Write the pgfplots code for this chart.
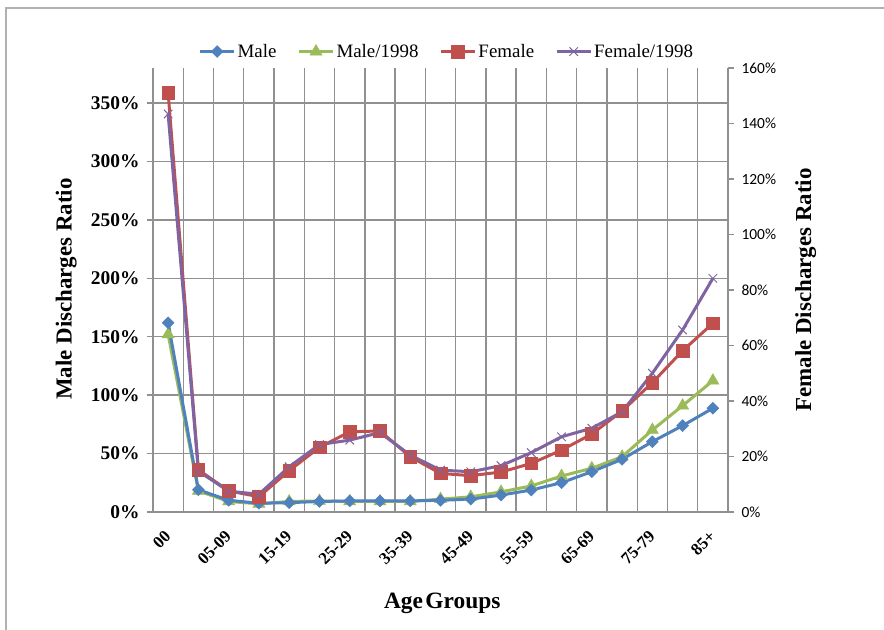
\documentclass[border=0pt]{standalone}
\usepackage{fontspec}
\setmainfont{Liberation Serif}
\newfontfamily\calibri{Carlito}
\usepackage{pgfplots}
\usepackage{pgfplotstable}
\pgfplotsset{compat=1.18}
\definecolor{cMale}{HTML}{4F81BD}
\definecolor{cMaleB}{HTML}{9BBB59}
\definecolor{cFem}{HTML}{C0504D}
\definecolor{cFemB}{HTML}{8064A2}
\definecolor{gridgray}{HTML}{909090}

\pgfplotstableread{
x male male98 female female98
0 162 152 151 143.4
1 19 18 15.2 14.7
2 10 9 7.6 7.5
3 7.5 7 5.5 6.4
4 8 9 14.9 16.3
5 9 9.5 23.3 24.3
6 9.5 9 28.9 25.9
7 9.5 9 29.2 28.6
8 9.5 9 19.9 20.5
9 10 11 13.9 15.1
10 11 13 13.1 14.5
11 14.5 17.2 14.4 16.7
12 18.8 22.3 17.5 21.4
13 25.1 30.8 22.3 27.1
14 34.5 37.4 28.1 30.2
15 45.1 47.3 36.4 36.1
16 60.2 70.2 46.6 50
17 73.9 91 58.1 65.6
18 88.8 112.4 68 84.2
}\data

\pgfplotsset{
  smale/.style={color=cMale, line width=3bp, mark=square*, mark size=4.2bp, mark options={rotate=45, solid, fill=cMale, draw=cMale, line width=0.5bp}},
  smaleB/.style={color=cMaleB, line width=3bp, mark=triangle*, mark size=7bp, mark options={solid, fill=cMaleB, draw=cMaleB, line width=0.5bp}},
  sfem/.style={color=cFem, line width=3bp, mark=square*, mark size=6.3bp, mark options={solid, fill=cFem, draw=cFem, line width=0.5bp}},
  sfemB/.style={color=cFemB, line width=3bp, mark=x, mark size=6bp, mark options={solid, draw=cFemB, line width=1bp}},
}

\begin{document}
\begin{tikzpicture}
\path[use as bounding box] (0bp,0bp) rectangle (884bp,630bp);
\draw[gridgray!70, line width=1.3bp] (6bp,0bp) -- (6bp,622bp) -- (884bp,622bp);

\begin{axis}[
  at={(153bp,118bp)}, anchor=south west, scale only axis,
  width=575bp, height=444bp,
  xmin=-0.5, xmax=18.5, ymin=0, ymax=380,
  axis x line*=bottom, axis y line*=left,
  axis line style={-, draw=gridgray, line width=1.4bp},
  xtick={0,2,...,18},
  xticklabels={00,05-09,15-19,25-29,35-39,45-49,55-59,65-69,75-79,85+},
  xtick style={draw=none},
  minor xtick={-0.5,0.5,...,18.5},
  xminorgrids=true, ymajorgrids=true,
  ytick={0,50,...,350},
  yticklabels={0\%,50\%,100\%,150\%,200\%,250\%,300\%,350\%},
  tick align=outside, major tick length=6bp, minor tick length=6bp,
  grid style={gridgray, line width=1.4bp},
  minor grid style={gridgray, line width=1.4bp},
  ytick style={gridgray, line width=1.4bp},
  minor tick style={gridgray, line width=1.4bp},
  yticklabel style={font=\bfseries\fontsize{19.5}{19.5}\selectfont, xshift=-4bp},
  xticklabel style={font=\bfseries\fontsize{17}{17}\selectfont, rotate=45, anchor=east, xshift=-8bp, yshift=-11bp},
  ylabel={Male Discharges Ratio},
  every axis y label/.style={at={(axis description cs:-0.151,0.502)}, rotate=90, anchor=center, font=\bfseries\fontsize{23}{23}\selectfont},
  xlabel={Age\kern0.1em Groups},
  every axis x label/.style={at={(axis description cs:0.503,-0.205)}, anchor=center, font=\bfseries\fontsize{23.5}{23.5}\selectfont},
  clip=false,
]
\addplot[smaleB] table[x=x, y=male98] {\data};
\addplot[smale] table[x=x, y=male] {\data};
\end{axis}

\begin{axis}[
  at={(153bp,118bp)}, anchor=south west, scale only axis,
  width=575bp, height=444bp,
  xmin=-0.5, xmax=18.5, ymin=0, ymax=160,
  axis x line=none, axis y line*=right,
  axis line style={-, draw=gridgray, line width=1.4bp},
  ytick={0,20,...,160},
  yticklabels={0\%,20\%,40\%,60\%,80\%,100\%,120\%,140\%,160\%},
  tick align=outside, major tick length=6bp,
  ytick style={gridgray, line width=1.4bp},
  yticklabel style={font=\calibri\fontsize{15.5}{15.5}\selectfont, xshift=4bp},
  ylabel={Female Discharges Ratio},
  every axis y label/.style={at={(axis description cs:1.135,0.5)}, rotate=90, anchor=center, font=\bfseries\fontsize{23}{23}\selectfont},
  clip=false,
  legend columns=4,
  legend style={at={(0.511,1.037)}, anchor=center, draw=none, fill=none,
    font=\fontsize{19}{19}\selectfont,
    /tikz/every even column/.append style={column sep=19bp}},
  legend image code/.code={\draw[mark repeat=2,mark phase=2] plot coordinates {(0bp,0bp) (17bp,0bp) (34bp,0bp)};},
]
\addlegendimage{smale}
\addlegendentry{Male}
\addlegendimage{smaleB}
\addlegendentry{Male/1998}
\addplot[sfem] table[x=x, y=female] {\data};
\addlegendentry{Female}
\addplot[sfemB] table[x=x, y=female98] {\data};
\addlegendentry{Female/1998}
\end{axis}
\end{tikzpicture}
\end{document}
